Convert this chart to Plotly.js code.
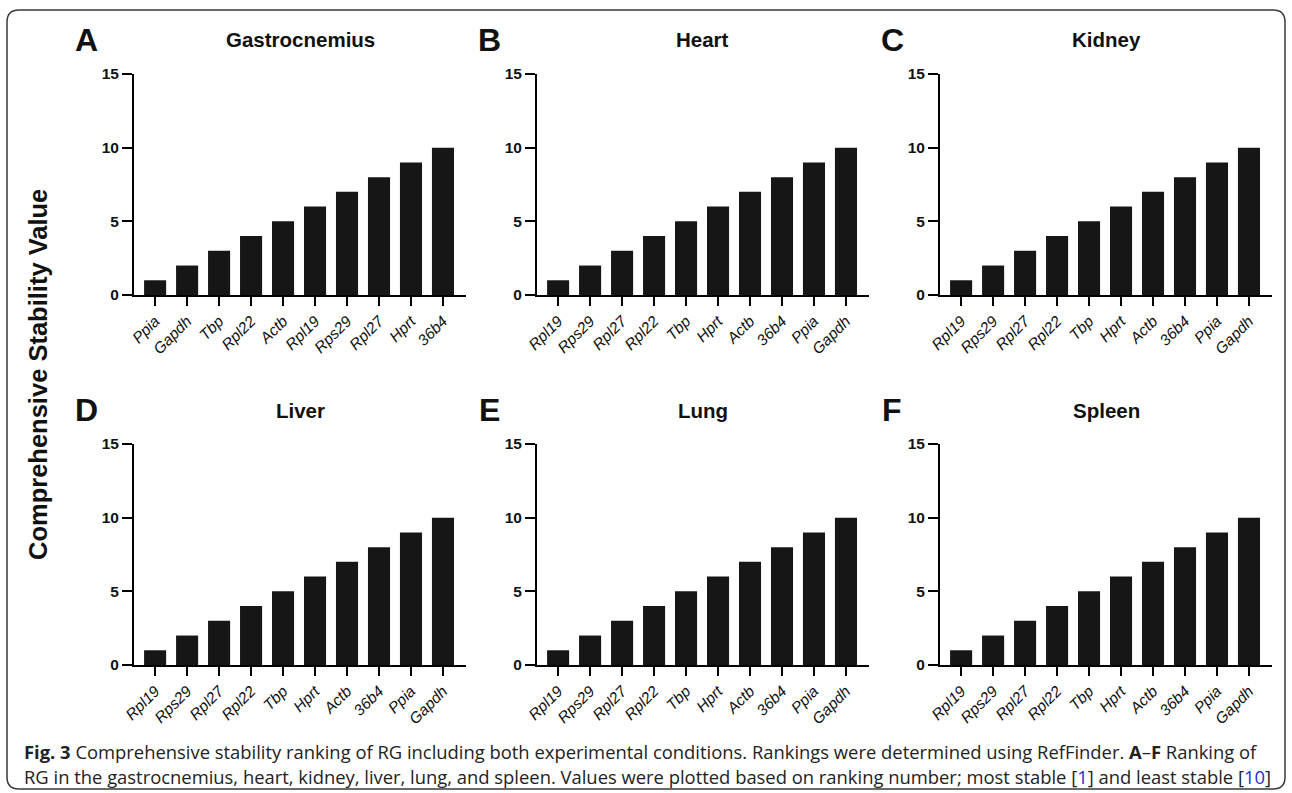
<!DOCTYPE html>
<html>
<head>
<meta charset="utf-8">
<script src="https://cdn.plot.ly/plotly-3.0.1.min.js"></script>
<style>html,body{margin:0;padding:0;background:#fff;}#chart{width:1292px;height:793px;}</style>
</head>
<body>
<div id="chart"></div>
<script>
// ---- data ----
const panelLetters = ["A", "B", "C", "D", "E", "F"];
const panelTitles = ["Gastrocnemius", "Heart", "Kidney", "Liver", "Lung", "Spleen"];
const genesGastrocnemius = ["Ppia", "Gapdh", "Tbp", "Rpl22", "Actb", "Rpl19", "Rps29", "Rpl27", "Hprt", "36b4"];
const valuesGastrocnemius = [1, 2, 3, 4, 5, 6, 7, 8, 9, 10];
const genesHeart = ["Rpl19", "Rps29", "Rpl27", "Rpl22", "Tbp", "Hprt", "Actb", "36b4", "Ppia", "Gapdh"];
const valuesHeart = [1, 2, 3, 4, 5, 6, 7, 8, 9, 10];
const genesKidney = ["Rpl19", "Rps29", "Rpl27", "Rpl22", "Tbp", "Hprt", "Actb", "36b4", "Ppia", "Gapdh"];
const valuesKidney = [1, 2, 3, 4, 5, 6, 7, 8, 9, 10];
const genesLiver = ["Rpl19", "Rps29", "Rpl27", "Rpl22", "Tbp", "Hprt", "Actb", "36b4", "Ppia", "Gapdh"];
const valuesLiver = [1, 2, 3, 4, 5, 6, 7, 8, 9, 10];
const genesLung = ["Rpl19", "Rps29", "Rpl27", "Rpl22", "Tbp", "Hprt", "Actb", "36b4", "Ppia", "Gapdh"];
const valuesLung = [1, 2, 3, 4, 5, 6, 7, 8, 9, 10];
const genesSpleen = ["Rpl19", "Rps29", "Rpl27", "Rpl22", "Tbp", "Hprt", "Actb", "36b4", "Ppia", "Gapdh"];
const valuesSpleen = [1, 2, 3, 4, 5, 6, 7, 8, 9, 10];
const yTickValues = [0, 5, 10, 15];
const yAxisTitle = "Comprehensive Stability Value";
const captionLine1 = "<b>Fig. 3</b> Comprehensive stability ranking of RG including both experimental conditions. Rankings were determined using RefFinder. <b>A</b>–<b>F</b> Ranking of";
const captionLine2 = "RG in the gastrocnemius, heart, kidney, liver, lung, and spleen. Values were plotted based on ranking number; most stable [<span style='color:#2b2bd6'>1</span>] and least stable [<span style='color:#2b2bd6'>10</span>]";

const panelGenes = [genesGastrocnemius, genesHeart, genesKidney, genesLiver, genesLung, genesSpleen];
const panelValues = [valuesGastrocnemius, valuesHeart, valuesKidney, valuesLiver, valuesLung, valuesSpleen];

// ---- layout geometry (pixels) ----
const W = 1292, H = 793;
const colLeft = [134, 537, 940];
const plotW = 332;
const rowTop = [74, 444];
const plotH = 221;
const px = v => v / W;
const py = v => 1 - v / H;
const ARIAL = "Arial, 'Liberation Sans', sans-serif";

const traces = [];
const layout = {
  width: W, height: H,
  margin: {l: 0, r: 0, t: 0, b: 0},
  paper_bgcolor: "#ffffff",
  plot_bgcolor: "rgba(0,0,0,0)",
  showlegend: false,
  bargap: 0.31,
  font: {family: ARIAL, color: "#111"},
  annotations: [],
  shapes: []
};

for (let i = 0; i < 6; i++) {
  const r = Math.floor(i / 3), c = i % 3;
  const xn = i === 0 ? "" : String(i + 1);
  const x0 = colLeft[c], y0 = rowTop[r];
  traces.push({
    type: "bar",
    x: panelGenes[i],
    y: panelValues[i],
    xaxis: "x" + xn,
    yaxis: "y" + xn,
    marker: {color: "#161616", line: {width: 0}},
    hoverinfo: "x+y"
  });
  layout["xaxis" + xn] = {
    domain: [px(x0), px(x0 + plotW)],
    anchor: "y" + xn,
    type: "category",
    range: [-0.66, 9.72],
    showline: true, linecolor: "#000", linewidth: 2,
    ticks: "outside", ticklen: 9, tickwidth: 2, tickcolor: "#000",
    tickangle: -45,
    tickfont: {family: ARIAL, size: 15.5, color: "#111", style: "italic"},
    showgrid: false, zeroline: false, fixedrange: true
  };
  layout["yaxis" + xn] = {
    domain: [py(y0 + plotH), py(y0)],
    anchor: "x" + xn,
    range: [0, 15],
    tickmode: "array",
    tickvals: yTickValues,
    ticktext: yTickValues.map(v => "<b>" + v + "</b>"),
    showline: true, linecolor: "#000", linewidth: 2,
    ticks: "outside", ticklen: 10, tickwidth: 2, tickcolor: "#000",
    ticklabelstandoff: 0,
    tickfont: {family: ARIAL, size: 15.5, color: "#111"},
    showgrid: false, zeroline: false, fixedrange: true
  };
  // panel title
  layout.annotations.push({
    xref: "paper", yref: "paper",
    x: px(x0 + plotW / 2), y: py(y0 - 34),
    xanchor: "center", yanchor: "middle",
    text: "<b>" + panelTitles[i] + "</b>",
    showarrow: false,
    font: {family: ARIAL, size: 20.5, color: "#111"}
  });
  // panel letter
  layout.annotations.push({
    xref: "paper", yref: "paper",
    x: px(x0 - 48), y: py(y0 - 34),
    xanchor: "center", yanchor: "middle",
    text: "<b>" + panelLetters[i] + "</b>",
    showarrow: false,
    font: {family: ARIAL, size: 32, color: "#111"}
  });
}

// shared y-axis title
layout.annotations.push({
  xref: "paper", yref: "paper",
  x: px(38), y: py(375),
  xanchor: "center", yanchor: "middle",
  textangle: -90,
  text: "<b>" + yAxisTitle + "</b>",
  showarrow: false,
  font: {family: ARIAL, size: 25.5, color: "#111"}
});

// caption
layout.annotations.push({
  xref: "paper", yref: "paper",
  x: px(22), y: py(751),
  xanchor: "left", yanchor: "middle",
  text: captionLine1, showarrow: false, align: "left",
  font: {family: "'Open Sans', 'DejaVu Sans', sans-serif", size: 18.4, color: "#222"}
});
layout.annotations.push({
  xref: "paper", yref: "paper",
  x: px(22), y: py(776),
  xanchor: "left", yanchor: "middle",
  text: captionLine2, showarrow: false, align: "left",
  font: {family: "'Open Sans', 'DejaVu Sans', sans-serif", size: 18.4, color: "#222"}
});

// rounded border
(function () {
  const L = 7, T = 10, R = 1285, B = 789, rad = 12;
  const p = (x, y) => px(x) + "," + py(y);
  const path = "M" + p(L + rad, T) + " L" + p(R - rad, T) + " Q" + p(R, T) + " " + p(R, T + rad) +
    " L" + p(R, B - rad) + " Q" + p(R, B) + " " + p(R - rad, B) +
    " L" + p(L + rad, B) + " Q" + p(L, B) + " " + p(L, B - rad) +
    " L" + p(L, T + rad) + " Q" + p(L, T) + " " + p(L + rad, T) + " Z";
  layout.shapes.push({type: "path", xref: "paper", yref: "paper", path: path,
    line: {color: "#3a3a3a", width: 1.5}, fillcolor: "rgba(0,0,0,0)", layer: "below"});
})();

Plotly.newPlot("chart", traces, layout, {displayModeBar: false, staticPlot: true});
</script>
</body>
</html>
